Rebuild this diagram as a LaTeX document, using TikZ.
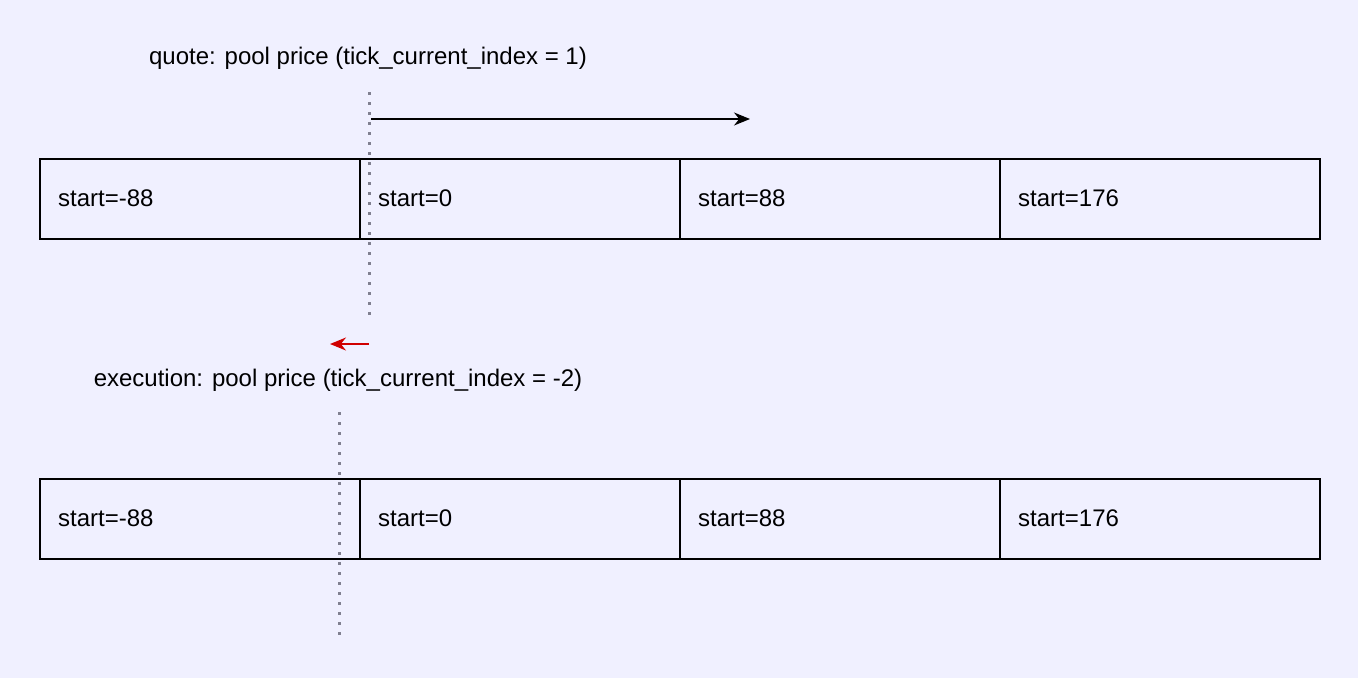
\documentclass[tikz,border=0pt]{standalone}
\usepackage{fontspec}
\setmainfont{Liberation Sans}
\usetikzlibrary{arrows.meta}
\definecolor{bg}{HTML}{F0F0FF}
\definecolor{dotgray}{HTML}{808090}
\definecolor{redarr}{HTML}{D00000}
\begin{document}
\begin{tikzpicture}[x=1pt,y=-1pt,
  cell/.style={draw=black,line width=1.6pt,minimum width=320pt,minimum height=80pt,anchor=north west,inner sep=0pt},
  lbl/.style={font=\fontsize{24}{28}\selectfont,anchor=west,inner sep=0pt},
  ttl/.style={font=\fontsize{24}{28}\selectfont},
  dots/.style={dotgray,line width=3pt,dash pattern=on 3pt off 7pt}]
\fill[bg] (0,0) rectangle (1358,678);
\useasboundingbox (0,0) rectangle (1358,678);
\foreach \i/\t in {0/-88,1/0,2/88,3/176}{
  \node[cell] (a\i) at (39+320*\i,158) {};
  \node[lbl] (ta\i) at (39+320*\i+19,198) {start=\t};
  \node[cell] (b\i) at (39+320*\i,478) {};
  \node[lbl] (tb\i) at (39+320*\i+19,518) {start=\t};
}
\node[ttl] (q) at (368,58) {quote: pool price (tick\_current\_index = 1)};
\node[ttl] (e) at (338,380) {execution: pool price (tick\_current\_index = -2)};
\coordinate (d1s) at (369,92); \coordinate (d1e) at (369,322);
\coordinate (d2s) at (339,412); \coordinate (d2e) at (339,642);
\draw[dots] (d1s) -- (d1e);
\draw[dots] (d2s) -- (d2e);
\coordinate (k1) at (371,119); \coordinate (k2) at (750,119);
\draw[line width=1.6pt,-{Stealth[length=16pt,width=13pt]}] (k1) -- (k2);
\coordinate (r1) at (369,344); \coordinate (r2) at (330,344);
\draw[redarr,line width=1.6pt,-{Stealth[length=16pt,width=13pt]}] (r1) -- (r2);
\end{tikzpicture}
\end{document}
